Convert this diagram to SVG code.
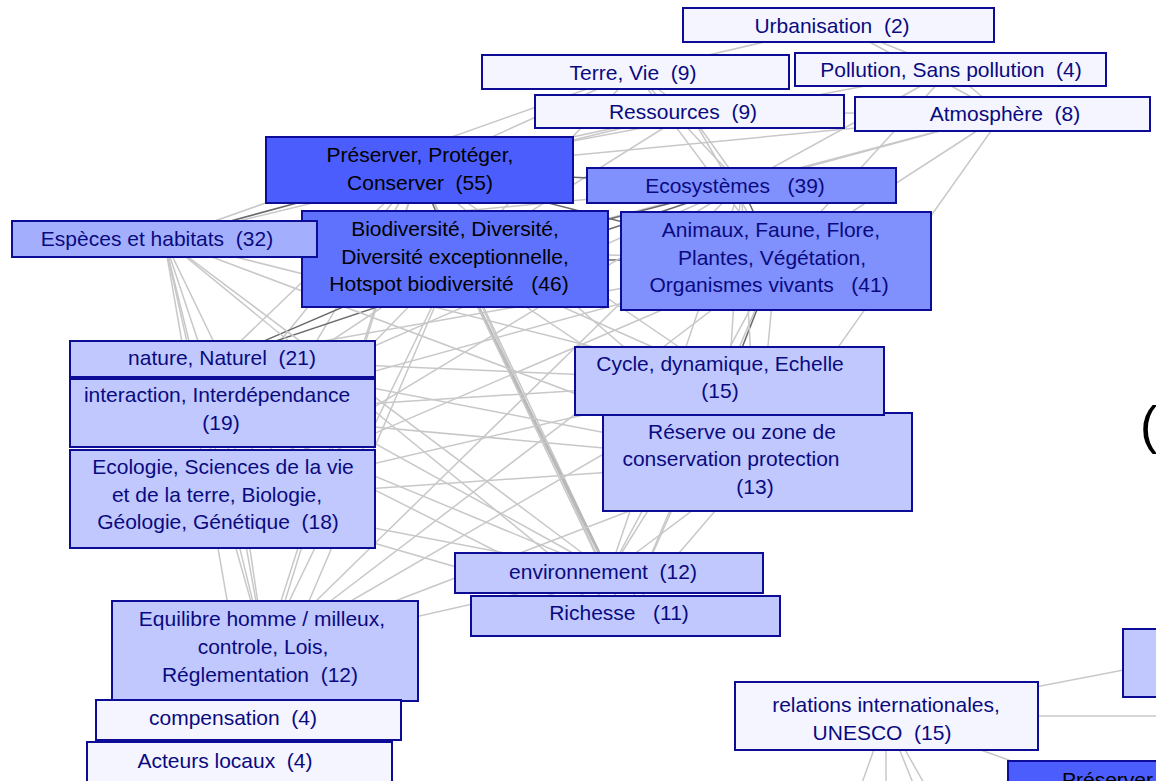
<svg xmlns="http://www.w3.org/2000/svg" width="1156" height="781" viewBox="0 0 1156 781">
<style>
.e{stroke:#c8c8c8;stroke-width:1.5;fill:none}
.d{stroke:#6a6a6a;stroke-width:1.5;fill:none}
.t{stroke:#b8b8b8;stroke-width:3;fill:none}
.n rect{stroke:#0c0c96;stroke-width:2}
.l0{fill:#f4f5ff}
.l1{fill:#c0c8fd}
.l2{fill:#a3affd}
.l3{fill:#8090fd}
.l4{fill:#5f72fd}
.l5{fill:#4b5dfd}
text{font-family:"Liberation Sans",Arial,sans-serif;font-size:21px;fill:#0a0a80;text-anchor:middle}
text.k{fill:#000}
</style>
<rect x="0" y="0" width="1156" height="781" fill="#fff"/>
<g id="connectors">
<line class="e" x1="838" y1="25" x2="635" y2="72"/>
<line class="e" x1="838" y1="25" x2="950" y2="70"/>
<line class="e" x1="838" y1="25" x2="1003" y2="114"/>
<line class="e" x1="635" y1="72" x2="419" y2="170"/>
<line class="e" x1="635" y1="72" x2="455" y2="259"/>
<line class="e" x1="635" y1="72" x2="741" y2="185"/>
<line class="e" x1="635" y1="72" x2="776" y2="261"/>
<line class="e" x1="635" y1="72" x2="164" y2="239"/>
<line class="e" x1="635" y1="72" x2="689" y2="112"/>
<line class="e" x1="689" y1="112" x2="1003" y2="114"/>
<line class="e" x1="689" y1="112" x2="419" y2="170"/>
<line class="e" x1="689" y1="112" x2="455" y2="259"/>
<line class="e" x1="689" y1="112" x2="776" y2="261"/>
<line class="e" x1="689" y1="112" x2="741" y2="185"/>
<line class="e" x1="689" y1="112" x2="164" y2="239"/>
<line class="e" x1="950" y1="70" x2="776" y2="261"/>
<line class="e" x1="950" y1="70" x2="741" y2="185"/>
<line class="e" x1="950" y1="70" x2="1003" y2="114"/>
<line class="e" x1="950" y1="70" x2="419" y2="170"/>
<line class="e" x1="1003" y1="114" x2="776" y2="261"/>
<line class="e" x1="1003" y1="114" x2="741" y2="185"/>
<line class="e" x1="1003" y1="114" x2="757" y2="462"/>
<line class="e" x1="1003" y1="114" x2="455" y2="259"/>
<line class="e" x1="1003" y1="114" x2="419" y2="170"/>
<line class="d" x1="419" y1="170" x2="741" y2="185"/>
<line class="d" x1="419" y1="170" x2="164" y2="239"/>
<line class="d" x1="419" y1="170" x2="455" y2="259"/>
<line class="d" x1="419" y1="170" x2="776" y2="261"/>
<line class="e" x1="419" y1="170" x2="222" y2="359"/>
<line class="e" x1="419" y1="170" x2="222" y2="413"/>
<line class="e" x1="419" y1="170" x2="222" y2="499"/>
<line class="e" x1="419" y1="170" x2="729" y2="381"/>
<line class="e" x1="419" y1="170" x2="757" y2="462"/>
<line class="e" x1="419" y1="170" x2="609" y2="573"/>
<line class="e" x1="419" y1="170" x2="625" y2="616"/>
<line class="e" x1="419" y1="170" x2="265" y2="651"/>
<line class="e" x1="419" y1="170" x2="248" y2="720"/>
<line class="d" x1="455" y1="259" x2="741" y2="185"/>
<line class="d" x1="455" y1="259" x2="776" y2="261"/>
<line class="e" x1="455" y1="259" x2="164" y2="239"/>
<line class="d" x1="455" y1="259" x2="222" y2="359"/>
<line class="e" x1="455" y1="259" x2="222" y2="413"/>
<line class="e" x1="455" y1="259" x2="222" y2="499"/>
<line class="e" x1="455" y1="259" x2="729" y2="381"/>
<line class="e" x1="455" y1="259" x2="757" y2="462"/>
<line class="t" x1="455" y1="259" x2="609" y2="573"/>
<line class="e" x1="455" y1="259" x2="625" y2="616"/>
<line class="e" x1="455" y1="259" x2="265" y2="651"/>
<line class="e" x1="455" y1="259" x2="239" y2="765"/>
<line class="d" x1="776" y1="261" x2="741" y2="185"/>
<line class="e" x1="776" y1="261" x2="164" y2="239"/>
<line class="e" x1="776" y1="261" x2="222" y2="359"/>
<line class="e" x1="776" y1="261" x2="222" y2="413"/>
<line class="e" x1="776" y1="261" x2="222" y2="499"/>
<line class="d" x1="776" y1="261" x2="729" y2="381"/>
<line class="e" x1="776" y1="261" x2="757" y2="462"/>
<line class="e" x1="776" y1="261" x2="609" y2="573"/>
<line class="e" x1="776" y1="261" x2="625" y2="616"/>
<line class="e" x1="776" y1="261" x2="265" y2="651"/>
<line class="e" x1="741" y1="185" x2="164" y2="239"/>
<line class="d" x1="741" y1="185" x2="222" y2="359"/>
<line class="e" x1="741" y1="185" x2="222" y2="413"/>
<line class="e" x1="741" y1="185" x2="222" y2="499"/>
<line class="e" x1="741" y1="185" x2="729" y2="381"/>
<line class="e" x1="741" y1="185" x2="757" y2="462"/>
<line class="e" x1="741" y1="185" x2="609" y2="573"/>
<line class="e" x1="741" y1="185" x2="265" y2="651"/>
<line class="e" x1="164" y1="239" x2="222" y2="359"/>
<line class="e" x1="164" y1="239" x2="222" y2="413"/>
<line class="e" x1="164" y1="239" x2="222" y2="499"/>
<line class="e" x1="164" y1="239" x2="265" y2="651"/>
<line class="e" x1="164" y1="239" x2="729" y2="381"/>
<line class="e" x1="164" y1="239" x2="757" y2="462"/>
<line class="e" x1="164" y1="239" x2="609" y2="573"/>
<line class="e" x1="164" y1="239" x2="625" y2="616"/>
<line class="e" x1="164" y1="239" x2="248" y2="720"/>
<line class="e" x1="222" y1="359" x2="729" y2="381"/>
<line class="e" x1="222" y1="359" x2="757" y2="462"/>
<line class="e" x1="222" y1="359" x2="609" y2="573"/>
<line class="e" x1="222" y1="359" x2="265" y2="651"/>
<line class="e" x1="222" y1="413" x2="729" y2="381"/>
<line class="e" x1="222" y1="413" x2="757" y2="462"/>
<line class="e" x1="222" y1="413" x2="609" y2="573"/>
<line class="e" x1="222" y1="413" x2="625" y2="616"/>
<line class="e" x1="222" y1="413" x2="265" y2="651"/>
<line class="e" x1="222" y1="499" x2="729" y2="381"/>
<line class="e" x1="222" y1="499" x2="757" y2="462"/>
<line class="e" x1="222" y1="499" x2="609" y2="573"/>
<line class="e" x1="222" y1="499" x2="625" y2="616"/>
<line class="e" x1="222" y1="499" x2="265" y2="651"/>
<line class="e" x1="729" y1="381" x2="609" y2="573"/>
<line class="e" x1="729" y1="381" x2="625" y2="616"/>
<line class="e" x1="729" y1="381" x2="265" y2="651"/>
<line class="e" x1="757" y1="462" x2="609" y2="573"/>
<line class="e" x1="757" y1="462" x2="625" y2="616"/>
<line class="e" x1="757" y1="462" x2="265" y2="651"/>
<line class="e" x1="609" y1="573" x2="265" y2="651"/>
<line class="e" x1="265" y1="651" x2="248" y2="720"/>
<line class="e" x1="265" y1="651" x2="239" y2="765"/>
<line class="e" x1="886" y1="716" x2="1160" y2="663"/>
<line class="e" x1="886" y1="716" x2="1400" y2="716"/>
<line class="e" x1="886" y1="716" x2="1120" y2="800"/>
<line class="e" x1="886" y1="716" x2="820" y2="900"/>
<line class="e" x1="886" y1="716" x2="886" y2="900"/>
<line class="e" x1="886" y1="716" x2="960" y2="900"/>
<line class="e" x1="886" y1="716" x2="990" y2="900"/>
<line class="e" x1="1120" y1="800" x2="1260" y2="680"/>
<line class="e" x1="1120" y1="800" x2="1300" y2="700"/>
</g>
<g id="n-urbanisation" class="n"><rect class="l0" x="683" y="8" width="311" height="34"/><text x="832" y="33">Urbanisation&#160; (2)</text></g>
<g id="n-terre" class="n"><rect class="l0" x="482" y="55" width="307" height="34"/><text x="633" y="80">Terre, Vie&#160; (9)</text></g>
<g id="n-pollution" class="n"><rect class="l0" x="795" y="53" width="311" height="33"/><text x="951" y="77">Pollution, Sans pollution&#160; (4)</text></g>
<g id="n-ressources" class="n"><rect class="l0" x="535" y="95" width="309" height="33"/><text x="683" y="119">Ressources&#160; (9)</text></g>
<g id="n-atmosphere" class="n"><rect class="l0" x="855" y="97" width="295" height="34"/><text x="1005" y="121">Atmosphère&#160; (8)</text></g>
<g id="n-preserver" class="n"><rect class="l5" x="266" y="137" width="307" height="66"/><text class="k" x="420" y="162">Préserver, Protéger,</text><text class="k" x="420" y="190">Conserver&#160; (55)</text></g>
<g id="n-ecosystemes" class="n"><rect class="l3" x="587" y="168" width="309" height="35"/><text x="735" y="193">Ecosystèmes&#160;&#160; (39)</text></g>
<g id="n-biodiversite" class="n"><rect class="l4" x="302" y="211" width="306" height="96"/><text class="k" x="455" y="236">Biodiversité, Diversité,</text><text class="k" x="455" y="264">Diversité exceptionnelle,</text><text class="k" x="449" y="291">Hotspot biodiversité&#160;&#160; (46)</text></g>
<g id="n-especes" class="n"><rect class="l2" x="12" y="221" width="305" height="36"/><text x="157" y="246">Espèces et habitats&#160; (32)</text></g>
<g id="n-animaux" class="n"><rect class="l3" x="621" y="212" width="310" height="98"/><text x="771" y="237">Animaux, Faune, Flore,</text><text x="772" y="265">Plantes, Végétation,</text><text x="769" y="292">Organismes vivants&#160;&#160; (41)</text></g>
<g id="n-nature" class="n"><rect class="l1" x="70" y="341" width="305" height="36"/><text x="222" y="365">nature, Naturel&#160; (21)</text></g>
<g id="n-interaction" class="n"><rect class="l1" x="70" y="379" width="305" height="68"/><text x="217" y="402">interaction, Interdépendance</text><text x="221" y="430">(19)</text></g>
<g id="n-ecologie" class="n"><rect class="l1" x="70" y="450" width="305" height="98"/><text x="223" y="474">Ecologie, Sciences de la vie</text><text x="217" y="502">et de la terre, Biologie,</text><text x="218" y="529">Géologie, Génétique&#160; (18)</text></g>
<g id="n-reserve" class="n"><rect class="l1" x="603" y="413" width="309" height="98"/><text x="742" y="439">Réserve ou zone de</text><text x="731" y="466">conservation protection</text><text x="755" y="494">(13)</text></g>
<g id="n-cycle" class="n"><rect class="l1" x="575" y="347" width="309" height="68"/><text x="720" y="371">Cycle, dynamique, Echelle</text><text x="720" y="398">(15)</text></g>
<g id="n-environnement" class="n"><rect class="l1" x="455" y="553" width="308" height="40"/><text x="603" y="579">environnement&#160; (12)</text></g>
<g id="n-richesse" class="n"><rect class="l1" x="471" y="596" width="309" height="40"/><text x="619" y="620">Richesse&#160;&#160; (11)</text></g>
<g id="n-equilibre" class="n"><rect class="l1" x="112" y="601" width="306" height="100"/><text x="262" y="626">Equilibre homme / milleux,</text><text x="263" y="654">controle, Lois,</text><text x="260" y="682">Réglementation&#160; (12)</text></g>
<g id="n-compensation" class="n"><rect class="l0" x="96" y="700" width="305" height="40"/><text x="233" y="725">compensation&#160; (4)</text></g>
<g id="n-acteurs" class="n"><rect class="l0" x="87" y="742" width="305" height="60"/><text x="225" y="768">Acteurs locaux&#160; (4)</text></g>
<g id="n-relations" class="n"><rect class="l0" x="735" y="682" width="303" height="68"/><text x="886" y="712">relations internationales,</text><text x="882" y="740">UNESCO&#160; (15)</text></g>
<g id="n-partial" class="n"><rect class="l1" x="1123" y="629" width="80" height="68"/></g>
<g id="n-preserver2" class="n"><rect class="l5" x="1008" y="761" width="200" height="60"/><text class="k" x="1062" y="787" style="text-anchor:start">Préserver</text></g>
<text class="k" x="1140" y="443" style="text-anchor:start;font-size:52px">(</text>
</svg>
